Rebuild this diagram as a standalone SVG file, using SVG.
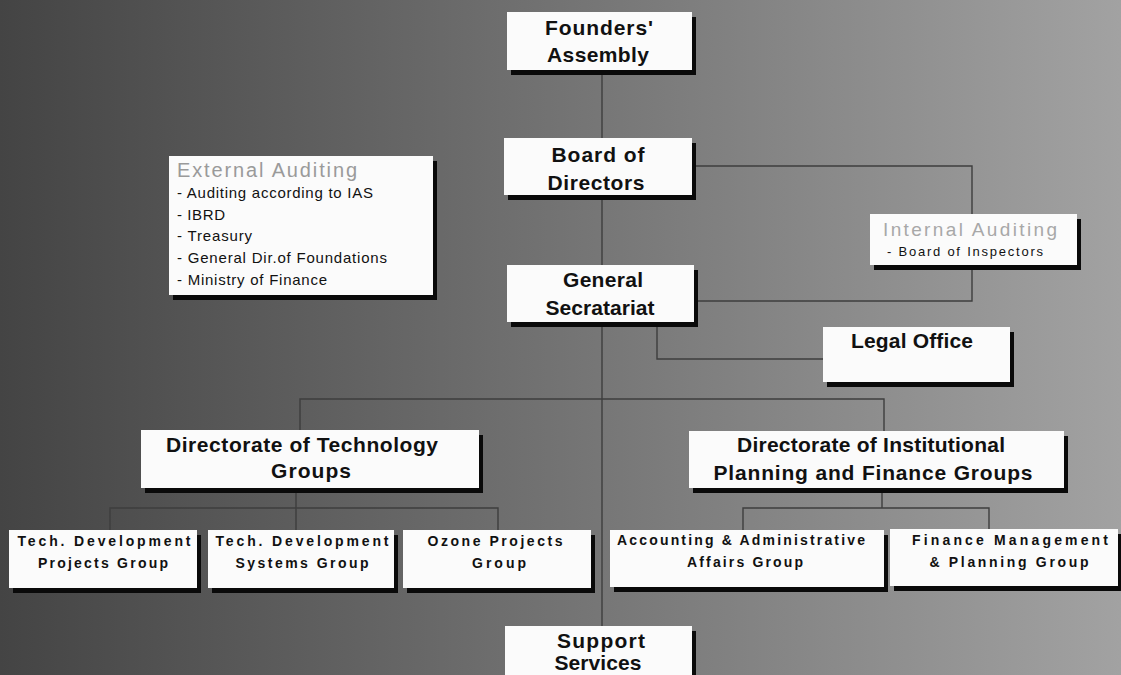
<svg xmlns="http://www.w3.org/2000/svg" width="1121" height="675" viewBox="0 0 1121 675">
<defs>
<linearGradient id="bg" x1="0" y1="0" x2="1" y2="0">
<stop offset="0" stop-color="#444444"/>
<stop offset="1" stop-color="#a2a2a2"/>
</linearGradient>
<style>
.box{fill:#fbfbfb}
.sh{fill:#0a0a0a}
.conn{fill:none;stroke:#3e3e3e;stroke-width:1.4}
.t{font-family:"Liberation Sans",Arial,sans-serif;font-weight:bold;fill:#111;text-anchor:middle}
.big{font-size:21px}
.sub{font-size:14px}
.n{font-family:"Liberation Sans",Arial,sans-serif;fill:#111;font-size:15px}
.title{font-family:"Liberation Sans",Arial,sans-serif;fill:#9a9a9a;font-size:20px}
</style>
</defs>
<rect x="0" y="0" width="1121" height="675" fill="url(#bg)"/>
<g id="connectors">
<path class="conn" d="M602,70 V626"/>
<path class="conn" d="M692,166 H972 V301 H694"/>
<path class="conn" d="M657,322 V359 H823"/>
<path class="conn" d="M300,430 V399 H884 V431"/>
<path class="conn" d="M296,488 V530 M110,530 V508 H498 V530"/>
<path class="conn" d="M882,488 V508 M743,530 V508 H989 V530"/>
</g>
<g id="founders">
<rect class="sh" x="511" y="17" width="185" height="58"/>
<rect class="box" x="507" y="12" width="185" height="58"/>
<text class="t big" x="599" y="35" textLength="108">Founders'</text>
<text class="t big" x="598" y="62" textLength="102">Assembly</text>
</g>
<g id="board">
<rect class="sh" x="508" y="143" width="188" height="57"/>
<rect class="box" x="504" y="138" width="188" height="57"/>
<text class="t big" x="598" y="162" textLength="93">Board of</text>
<text class="t big" x="596" y="190" textLength="97">Directors</text>
</g>
<g id="secretariat">
<rect class="sh" x="511" y="270" width="187" height="57"/>
<rect class="box" x="507" y="265" width="187" height="57"/>
<text class="t big" x="603" y="287" textLength="80">General</text>
<text class="t big" x="600" y="315" textLength="109">Secratariat</text>
</g>
<g id="external-auditing">
<rect class="sh" x="173" y="161" width="264" height="139"/>
<rect class="box" x="169" y="156" width="264" height="139"/>
<text class="title" x="177" y="177" textLength="180">External Auditing</text>
<text class="n" x="177" y="198" textLength="196">- Auditing according to IAS</text>
<text class="n" x="177" y="220" textLength="48">- IBRD</text>
<text class="n" x="177" y="241" textLength="75">- Treasury</text>
<text class="n" x="177" y="263" textLength="210">- General Dir.of Foundations</text>
<text class="n" x="177" y="285" textLength="150">- Ministry of Finance</text>
</g>
<g id="internal-auditing">
<rect class="sh" x="874" y="219" width="207" height="51"/>
<rect class="box" x="870" y="214" width="207" height="51"/>
<text class="title" x="883" y="236" textLength="174" style="fill:#a8a8a8;font-size:19px">Internal Auditing</text>
<text class="n" x="887" y="256" textLength="156" style="font-size:13px">- Board of Inspectors</text>
</g>
<g id="legal-office">
<rect class="sh" x="827" y="332" width="187" height="55"/>
<rect class="box" x="823" y="327" width="187" height="55"/>
<text class="t big" x="912" y="348" textLength="122">Legal Office</text>
</g>
<g id="dir-technology">
<rect class="sh" x="145" y="435" width="338" height="58"/>
<rect class="box" x="141" y="430" width="338" height="58"/>
<text class="t big" x="302" y="452" textLength="272">Directorate of Technology</text>
<text class="t big" x="311" y="478" textLength="80">Groups</text>
</g>
<g id="dir-institutional">
<rect class="sh" x="693" y="436" width="375" height="57"/>
<rect class="box" x="689" y="431" width="375" height="57"/>
<text class="t big" x="871" y="452" textLength="268">Directorate of Institutional</text>
<text class="t big" x="873" y="480" textLength="319">Planning and Finance Groups</text>
</g>
<g id="tech-dev-projects">
<rect class="sh" x="13" y="535" width="188" height="58"/>
<rect class="box" x="9" y="530" width="188" height="58"/>
<text class="t sub" x="104" y="546" textLength="173">Tech. Development</text>
<text class="t sub" x="103" y="568" textLength="130">Projects Group</text>
</g>
<g id="tech-dev-systems">
<rect class="sh" x="212" y="535" width="186" height="58"/>
<rect class="box" x="208" y="530" width="186" height="58"/>
<text class="t sub" x="302" y="546" textLength="173">Tech. Development</text>
<text class="t sub" x="302" y="568" textLength="133">Systems Group</text>
</g>
<g id="ozone-projects">
<rect class="sh" x="407" y="535" width="188" height="58"/>
<rect class="box" x="403" y="530" width="188" height="58"/>
<text class="t sub" x="495" y="546" textLength="135">Ozone Projects</text>
<text class="t sub" x="499" y="568" textLength="54">Group</text>
</g>
<g id="accounting">
<rect class="sh" x="614" y="535" width="274" height="57"/>
<rect class="box" x="610" y="530" width="274" height="57"/>
<text class="t sub" x="741" y="545" textLength="248">Accounting &amp; Administrative</text>
<text class="t sub" x="745" y="567" textLength="116">Affairs Group</text>
</g>
<g id="finance-management">
<rect class="sh" x="894" y="534" width="230" height="57"/>
<rect class="box" x="890" y="529" width="228" height="57"/>
<text class="t sub" x="1010" y="545" textLength="196">Finance Management</text>
<text class="t sub" x="1009" y="567" textLength="159">&amp; Planning Group</text>
</g>
<g id="support-services">
<rect class="sh" x="509" y="631" width="187" height="60"/>
<rect class="box" x="505" y="626" width="187" height="60"/>
<text class="t big" x="601" y="648" textLength="88">Support</text>
<text class="t big" x="598" y="670" textLength="87">Services</text>
</g>
</svg>
